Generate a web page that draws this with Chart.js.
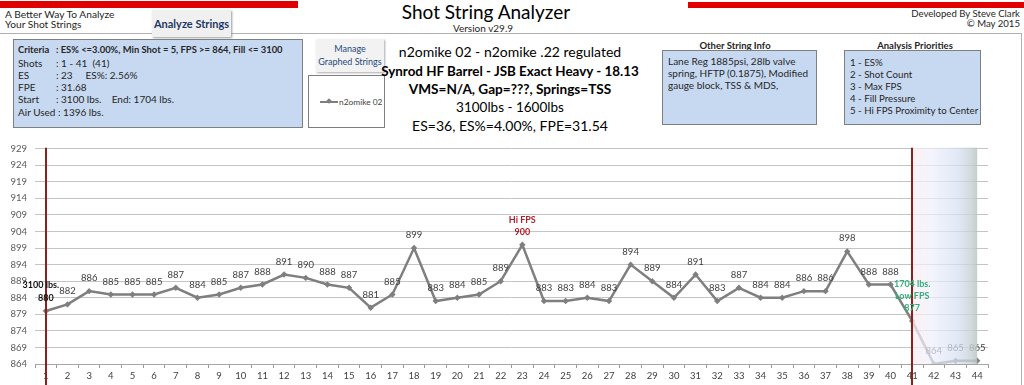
<!DOCTYPE html>
<html><head><meta charset="utf-8">
<script src="https://cdn.jsdelivr.net/npm/chart.js@4.4.0/dist/chart.umd.min.js"></script>
<style>
body{margin:0;width:1024px;height:385px;overflow:hidden;background:#fff;font-family:Lato,"Open Sans",sans-serif;position:relative;color:#262626;}
.abs{position:absolute;white-space:nowrap;}
.box{position:absolute;background:#c6d9f1;border:1.5px solid #7f7f7f;box-sizing:border-box;}
.t10{font-size:10px;line-height:12px;}
.lbl{display:inline-block;width:38px;}
.ctr{position:absolute;left:310px;width:400px;text-align:center;white-space:nowrap;color:#000;}
#wrap{position:absolute;left:0;top:135px;width:1024px;height:250px;}
</style></head><body>
<div class="abs" style="left:0;top:1px;width:298px;height:7px;background:#e00000"></div>
<div class="abs" style="left:688px;top:2px;width:336px;height:6px;background:#e00000"></div>
<div class="abs" style="left:0;top:33px;width:1022px;height:1px;background:#b0b0b0"></div>
<div class="abs" style="left:1021px;top:33px;width:1px;height:352px;background:#b0b0b0"></div>

<div class="abs" style="left:5px;top:8px;font-size:10.2px;line-height:12px;">A Better Way To Analyze</div>
<div class="abs" style="left:5px;top:18px;font-size:10.2px;line-height:12px;">Your Shot Strings</div>
<div class="abs" style="left:152px;top:10px;width:79px;height:27px;background:#f0f0f0;box-shadow:1px 1px 2px #999;text-align:center;line-height:27px;font-size:11px;font-weight:bold;color:#1f3864;">Analyze Strings</div>

<div class="abs" style="left:336px;top:0px;width:300px;text-align:center;font-size:19px;line-height:24px;color:#000;">Shot String Analyzer</div>
<div class="abs" style="left:383px;top:22px;width:200px;text-align:center;font-size:10px;line-height:12px;">Version v29.9</div>

<div class="abs" style="right:4px;top:8px;text-align:right;font-size:9.6px;line-height:12px;">Developed By Steve Clark</div>
<div class="abs" style="right:4px;top:18px;text-align:right;font-size:9.6px;line-height:12px;">© May 2015</div>

<div class="box" style="left:13px;top:39px;width:290px;height:89px;"></div>
<div class="abs" style="left:18px;top:44px;font-weight:bold;font-size:9.4px;line-height:12px;"><span class="lbl">Criteria</span>: ES% &lt;=3.00%, Min Shot = 5, FPS &gt;= 864, Fill &lt;= 3100</div>
<div class="abs t10" style="left:18px;top:56.5px;"><span class="lbl">Shots</span>: 1 - 41&nbsp; (41)</div>
<div class="abs t10" style="left:18px;top:68.5px;"><span class="lbl">ES</span>: 23&nbsp;&nbsp;&nbsp;&nbsp; ES%: 2.56%</div>
<div class="abs t10" style="left:18px;top:81px;"><span class="lbl">FPE</span>: 31.68</div>
<div class="abs t10" style="left:18px;top:93px;"><span class="lbl">Start</span>: 3100 lbs.&nbsp;&nbsp;&nbsp; End: 1704 lbs.</div>
<div class="abs t10" style="left:18px;top:105.5px;">Air Used : 1396 lbs.</div>

<div class="abs" style="left:316px;top:39px;width:68px;height:33px;background:#f2f2f2;box-shadow:1px 1px 2px #aaa;text-align:center;font-size:9px;line-height:12.5px;color:#1f497d;padding-top:4px;box-sizing:border-box;">Manage<br>Graphed Strings</div>
<div class="abs" style="left:308px;top:75px;width:77px;height:53px;border:1px solid #7f7f7f;box-sizing:border-box;background:#fff;"></div>
<div class="abs" style="left:320px;top:101px;width:18px;height:2px;background:#7f7f7f"></div>
<div class="abs" style="left:327px;top:99px;width:4px;height:4px;background:#7f7f7f;transform:rotate(45deg);"></div>
<div class="abs" style="left:339px;top:96px;font-size:8.4px;line-height:12px;color:#404040;">n2omike 02</div>

<div class="ctr" style="top:43px;font-size:14px;line-height:18px;">n2omike 02 - n2omike .22 regulated</div>
<div class="ctr" style="top:62px;font-size:13.4px;line-height:18px;font-weight:bold;">Synrod HF Barrel - JSB Exact Heavy - 18.13</div>
<div class="ctr" style="top:80px;font-size:13.6px;line-height:18px;font-weight:bold;">VMS=N/A, Gap=???, Springs=TSS</div>
<div class="ctr" style="top:98px;font-size:13.5px;line-height:18px;">3100lbs - 1600lbs</div>
<div class="ctr" style="top:117px;font-size:14px;line-height:18px;">ES=36, ES%=4.00%, FPE=31.54</div>

<div class="abs" style="left:665px;top:40px;width:140px;text-align:center;font-size:9.5px;line-height:12px;font-weight:bold;text-decoration:underline;">Other String Info</div>
<div class="box" style="left:662px;top:50px;width:155px;height:75px;"></div>
<div class="abs t10" style="left:668px;top:55px;">Lane Reg 1885psi, 28lb valve</div>
<div class="abs t10" style="left:668px;top:67px;">spring, HFTP (0.1875), Modified</div>
<div class="abs t10" style="left:668px;top:79px;">gauge block, TSS &amp; MDS,</div>

<div class="abs" style="left:845px;top:40px;width:140px;text-align:center;font-size:9.5px;line-height:12px;font-weight:bold;text-decoration:underline;">Analysis Priorities</div>
<div class="box" style="left:844px;top:50px;width:137px;height:75px;"></div>
<div class="abs" style="left:850px;top:56px;font-size:9.7px;line-height:12px;">1 - ES%</div>
<div class="abs" style="left:850px;top:68px;font-size:9.7px;line-height:12px;">2 - Shot Count</div>
<div class="abs" style="left:850px;top:80px;font-size:9.7px;line-height:12px;">3 - Max FPS</div>
<div class="abs" style="left:850px;top:92px;font-size:9.7px;line-height:12px;">4 - Fill Pressure</div>
<div class="abs" style="left:850px;top:104px;font-size:9.7px;line-height:12px;">5 - Hi FPS Proximity to Center</div>

<div id="wrap"><canvas id="c" width="1024" height="250"></canvas></div>
<script>
const shots = ["1","2","3","4","5","6","7","8","9","10","11","12","13","14","15","16","17","18","19","20","21","22","23","24","25","26","27","28","29","30","31","32","33","34","35","36","37","38","39","40","41","42","43","44"];
const fps = [880,882,886,885,885,885,887,884,885,887,888,891,890,888,887,881,885,899,883,884,885,889,900,883,883,884,883,894,889,884,891,883,887,884,884,886,886,898,888,888,877,864,865,865];
const yMin = 864, yMax = 929, yStep = 5;
const startShot = "1", endShot = "41", lastShot = "44";
const startNote = ["3100 lbs."];
const hiShot = "23", hiNote = ["Hi FPS"];
const lowNote = ["1704 lbs.", "Low FPS"];

const FONT = 'Lato, "Open Sans", sans-serif';
const annot = {
  id: 'annot',
  afterDatasetsDraw(chart) {
    const ctx = chart.ctx, meta = chart.getDatasetMeta(0), x = chart.scales.x, ca = chart.chartArea;
    const iS = shots.indexOf(startShot), iE = shots.indexOf(endShot), iH = shots.indexOf(hiShot);
    ctx.save();
    ctx.textAlign = 'center'; ctx.textBaseline = 'middle';
    ctx.font = '9.5px ' + FONT; ctx.fillStyle = '#404040';
    meta.data.forEach((p, i) => {
      if (i === iS || i === iE || i === iH) return;
      ctx.fillText(String(fps[i]), p.x, p.y - 13);
    });
    // shaded tail
    const x0 = x.getPixelForValue(iE), x1 = x.getPixelForValue(shots.indexOf(lastShot));
    const g = ctx.createLinearGradient(x0, 0, x1, 0);
    g.addColorStop(0, 'rgba(252,236,240,0.75)');
    g.addColorStop(0.3, 'rgba(238,240,252,0.7)');
    g.addColorStop(0.7, 'rgba(214,224,242,0.72)');
    g.addColorStop(0.9, 'rgba(200,210,215,0.8)');
    g.addColorStop(1, 'rgba(185,198,190,0.85)');
    ctx.fillStyle = g;
    ctx.fillRect(x0, ca.top - 1, x1 - x0, ca.bottom - ca.top + 1);
    // red lines
    ctx.strokeStyle = '#8b2020'; ctx.lineWidth = 2;
    [iS, iE].forEach(i => {
      const px = Math.round(x.getPixelForValue(i));
      ctx.beginPath(); ctx.moveTo(px, ca.top - 1); ctx.lineTo(px, chart.height); ctx.stroke();
    });
    // special labels
    ctx.font = 'bold 9px ' + FONT;
    let p = meta.data[iS];
    ctx.fillStyle = '#111';
    ctx.fillText(String(fps[iS]), p.x, p.y - 13);
    ctx.fillText(startNote[0], p.x - 5, p.y - 26);
    p = meta.data[iH];
    ctx.fillStyle = '#b0202a';
    ctx.fillText(String(fps[iH]), p.x, p.y - 13);
    ctx.fillText(hiNote[0], p.x, p.y - 25);
    p = meta.data[iE];
    ctx.fillStyle = '#2fb07a';
    ctx.fillText(String(fps[iE]), p.x, p.y - 13);
    ctx.fillText(lowNote[1], p.x, p.y - 25);
    ctx.fillText(lowNote[0], p.x, p.y - 37);
    ctx.restore();
  }
};

new Chart(document.getElementById('c'), {
  type: 'line',
  data: { labels: shots, datasets: [{
    data: fps, borderColor: '#7f7f7f', borderWidth: 2.5, backgroundColor: '#7f7f7f',
    pointStyle: 'rectRot', pointRadius: 3.2, pointBorderWidth: 0, tension: 0, fill: false
  }]},
  options: {
    responsive: false, animation: false, devicePixelRatio: 1,
    layout: { padding: { top: 9, left: 0, right: 36, bottom: 0 } },
    plugins: { legend: { display: false }, tooltip: { enabled: false } },
    scales: {
      x: {
        offset: true,
        grid: { display: true, drawOnChartArea: false, drawTicks: true, tickLength: 4, offset: true, color: '#999' },
        border: { display: true, color: '#a6a6a6', width: 1 },
        ticks: { font: { size: 9.5, family: FONT }, color: '#404040', padding: 2, maxRotation: 0, autoSkip: false },
        afterFit(s) { s.height = 21; }
      },
      y: {
        min: yMin, max: yMax,
        grid: { color: '#c4c4c4', lineWidth: 1, drawTicks: false },
        border: { display: false },
        ticks: { stepSize: yStep, font: { size: 9.5, family: FONT }, color: '#595959', padding: 8 },
        afterFit(s) { s.width = 35; }
      }
    }
  },
  plugins: [annot]
});
</script>
</body></html>
